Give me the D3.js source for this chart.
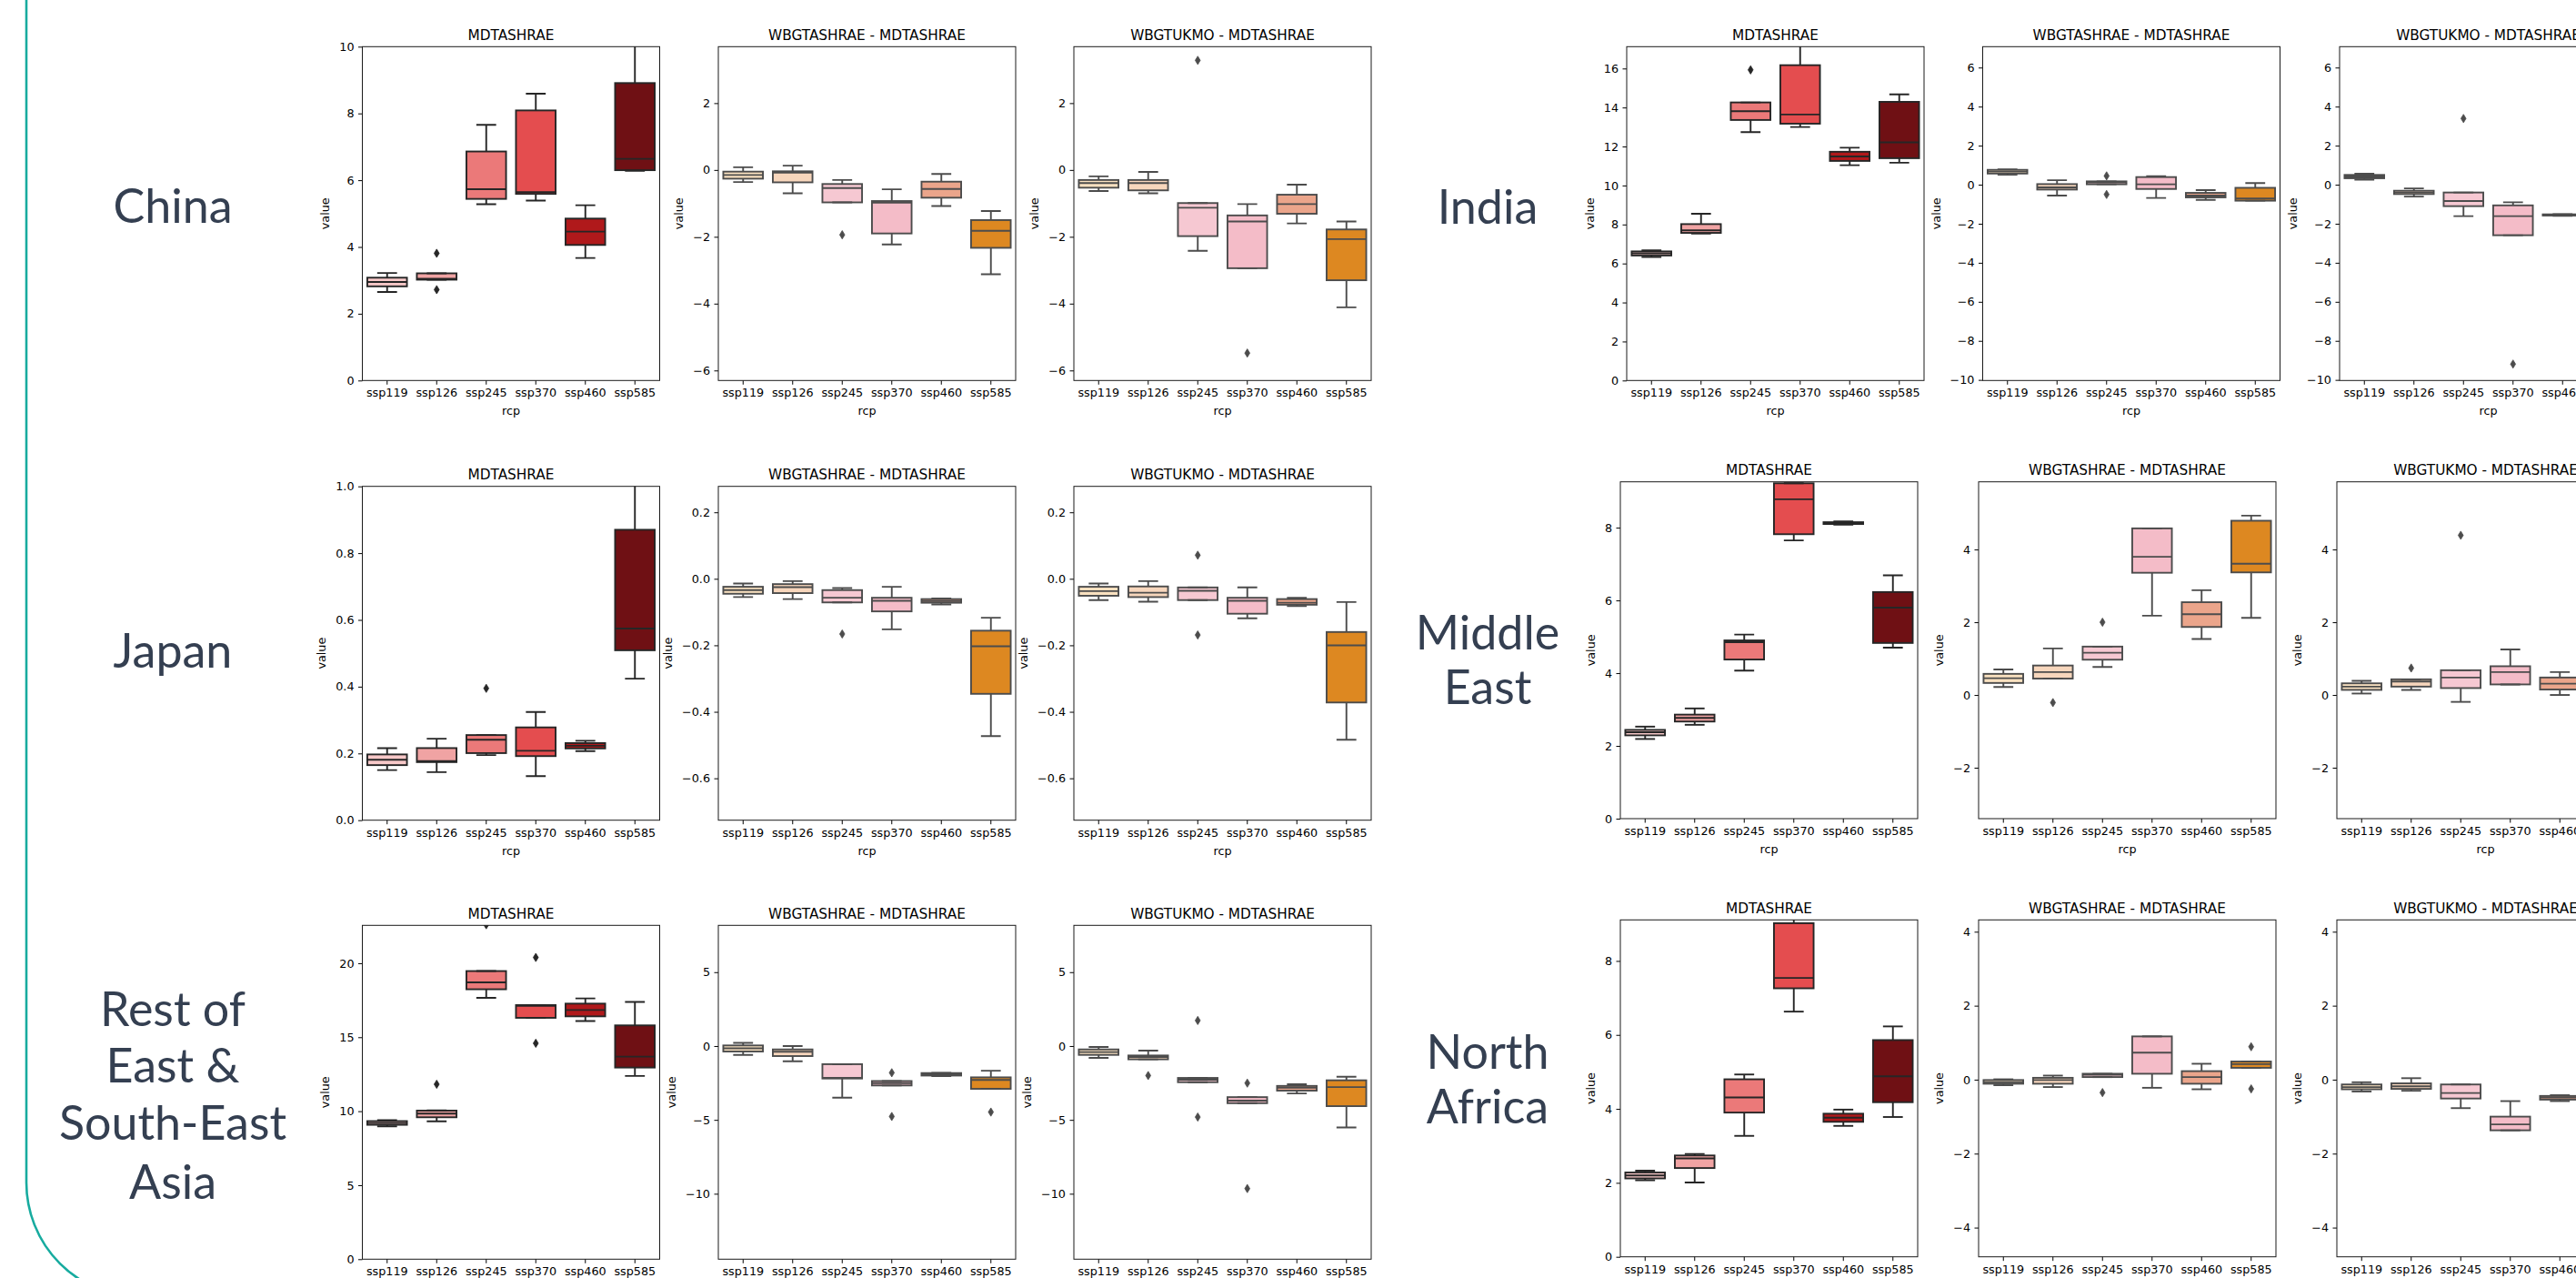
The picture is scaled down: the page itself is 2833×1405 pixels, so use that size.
<!DOCTYPE html>
<html>
<head>
<meta charset="utf-8">
<script src="https://cdn.jsdelivr.net/npm/d3@7"></script>
<style>
html, body { margin: 0; background: #fff; }
svg { display: block; }
</style>
</head>
<body>
<svg id="chart" width="2833" height="1405"></svg>
<script>
// categories + titles
const rcp = ['ssp119', 'ssp126', 'ssp245', 'ssp370', 'ssp460', 'ssp585'];
const panelTitles = ['MDTASHRAE', 'WBGTASHRAE - MDTASHRAE', 'WBGTUKMO - MDTASHRAE'];
const regionNames = [['China'], ['Japan'], ['Rest of', 'East &', 'South-East', 'Asia'], ['India'], ['Middle', 'East'], ['North', 'Africa']];

// each box: [whisker low, q1, median, q3, whisker high, outliers]
const chinaMd = [
    [2.65, 2.82, 2.95, 3.08, 3.22, []],
    [3.02, 3.02, 3.05, 3.21, 3.21, [3.81, 2.72]],
    [5.28, 5.44, 5.73, 6.86, 7.66, []],
    [5.39, 5.59, 5.64, 8.09, 8.59, []],
    [3.67, 4.06, 4.46, 4.85, 5.25, []],
    [6.28, 6.30, 6.64, 8.91, 10.6, []]
];
const chinaWbA = [
    [-0.36, -0.26, -0.15, -0.05, 0.08, []],
    [-0.70, -0.37, -0.08, -0.04, 0.13, []],
    [-0.97, -0.97, -0.54, -0.42, -0.30, [-1.94]],
    [-2.23, -1.90, -0.98, -0.93, -0.58, []],
    [-1.08, -0.83, -0.57, -0.35, -0.12, []],
    [-3.12, -2.33, -1.82, -1.50, -1.23, []]
];
const chinaWbU = [
    [-0.63, -0.53, -0.39, -0.30, -0.19, []],
    [-0.70, -0.61, -0.39, -0.30, -0.06, []],
    [-2.42, -1.98, -1.13, -0.99, -0.99, [3.28]],
    [-2.94, -2.94, -1.54, -1.36, -1.02, [-5.48]],
    [-1.60, -1.31, -1.02, -0.74, -0.44, []],
    [-4.11, -3.30, -2.07, -1.78, -1.54, []]
];

const japanMd = [
    [0.150, 0.165, 0.181, 0.197, 0.216, []],
    [0.144, 0.174, 0.177, 0.216, 0.244, []],
    [0.195, 0.201, 0.241, 0.255, 0.255, [0.395]],
    [0.132, 0.192, 0.208, 0.278, 0.324, []],
    [0.207, 0.215, 0.223, 0.231, 0.238, []],
    [0.424, 0.509, 0.574, 0.870, 1.05, []]
];
const japanWbA = [
    [-0.055, -0.045, -0.034, -0.024, -0.014, []],
    [-0.061, -0.043, -0.025, -0.016, -0.007, []],
    [-0.071, -0.071, -0.057, -0.034, -0.028, [-0.166]],
    [-0.152, -0.098, -0.066, -0.057, -0.024, []],
    [-0.077, -0.072, -0.067, -0.061, -0.059, []],
    [-0.473, -0.346, -0.203, -0.156, -0.117, []]
];
const japanWbU = [
    [-0.064, -0.051, -0.037, -0.024, -0.014, []],
    [-0.069, -0.055, -0.042, -0.023, -0.007, []],
    [-0.064, -0.064, -0.036, -0.026, -0.026, [0.071, -0.169]],
    [-0.119, -0.105, -0.066, -0.057, -0.026, []],
    [-0.082, -0.078, -0.072, -0.061, -0.057, []],
    [-0.484, -0.372, -0.200, -0.160, -0.070, []]
];

const restMd = [
    [8.98, 9.08, 9.20, 9.33, 9.40, []],
    [9.32, 9.59, 9.84, 10.04, 10.06, [11.82]],
    [17.66, 18.24, 18.71, 19.47, 19.47, [22.6]],
    [16.31, 16.31, 17.12, 17.17, 17.17, [20.39, 14.59]],
    [16.09, 16.41, 16.84, 17.27, 17.62, []],
    [12.38, 12.95, 13.69, 15.80, 17.38, []]
];
const restWbA = [
    [-0.60, -0.37, -0.16, 0.04, 0.21, []],
    [-1.03, -0.68, -0.39, -0.23, 0.0, []],
    [-3.50, -2.20, -2.16, -1.23, -1.23, []],
    [-2.67, -2.67, -2.51, -2.37, -2.37, [-1.81, -4.77]],
    [-2.04, -2.00, -1.91, -1.83, -1.81, []],
    [-2.90, -2.90, -2.30, -2.12, -1.67, [-4.47]]
];
const restWbU = [
    [-0.80, -0.60, -0.41, -0.23, -0.06, []],
    [-0.90, -0.90, -0.74, -0.64, -0.31, [-2.0]],
    [-2.45, -2.45, -2.28, -2.16, -2.16, [1.73, -4.81]],
    [-3.87, -3.87, -3.70, -3.46, -3.46, [-2.51, -9.65]],
    [-3.21, -3.02, -2.82, -2.70, -2.59, []],
    [-5.51, -4.07, -2.78, -2.32, -2.08, []]
];

const indiaMd = [
    [6.33, 6.41, 6.52, 6.62, 6.67, []],
    [7.53, 7.57, 7.70, 8.02, 8.55, []],
    [12.74, 13.36, 13.81, 14.26, 14.26, [15.93]],
    [13.00, 13.17, 13.64, 16.17, 17.6, []],
    [11.04, 11.26, 11.49, 11.73, 11.94, []],
    [11.17, 11.40, 12.21, 14.29, 14.67, []]
];
const indiaWbA = [
    [0.51, 0.57, 0.67, 0.76, 0.79, []],
    [-0.56, -0.25, -0.14, 0.03, 0.23, []],
    [0.02, 0.02, 0.12, 0.17, 0.17, [0.45, -0.50]],
    [-0.68, -0.22, 0.02, 0.39, 0.43, []],
    [-0.78, -0.65, -0.56, -0.42, -0.28, []],
    [-0.82, -0.82, -0.71, -0.16, 0.08, []]
];
// ssp585 of the last panel lies outside the picture
const indiaWbU = [
    [0.26, 0.33, 0.42, 0.50, 0.56, []],
    [-0.61, -0.48, -0.40, -0.31, -0.19, []],
    [-1.61, -1.10, -0.84, -0.40, -0.40, [3.39]],
    [-2.59, -2.59, -1.61, -1.06, -0.90, [-9.19]],
    [-1.60, -1.58, -1.55, -1.52, -1.51, []],
    null
];

const meMd = [
    [2.19, 2.29, 2.375, 2.44, 2.53, []],
    [2.58, 2.67, 2.77, 2.86, 3.03, []],
    [4.07, 4.375, 4.85, 4.90, 5.06, []],
    [7.65, 7.82, 8.78, 9.22, 9.22, []],
    [8.08, 8.10, 8.125, 8.15, 8.17, []],
    [4.70, 4.83, 5.80, 6.23, 6.69, []]
];
const meWbA = [
    [0.22, 0.33, 0.46, 0.58, 0.70, []],
    [0.45, 0.45, 0.63, 0.81, 1.28, [-0.21]],
    [0.77, 0.97, 1.16, 1.33, 1.33, [2.0]],
    [2.18, 3.36, 3.80, 4.58, 4.58, []],
    [1.54, 1.87, 2.22, 2.55, 2.88, []],
    [2.12, 3.37, 3.61, 4.79, 4.93, []]
];
const meWbU = [
    [0.04, 0.14, 0.23, 0.32, 0.39, []],
    [0.14, 0.23, 0.37, 0.43, 0.43, [0.74]],
    [-0.19, 0.19, 0.48, 0.68, 0.68, [4.39]],
    [0.29, 0.29, 0.63, 0.79, 1.25, []],
    [0.0, 0.15, 0.31, 0.48, 0.63, []],
    null
];

const naMd = [
    [2.07, 2.12, 2.20, 2.28, 2.33, []],
    [2.01, 2.40, 2.66, 2.74, 2.78, []],
    [3.27, 3.90, 4.31, 4.80, 4.93, []],
    [6.63, 7.26, 7.54, 9.02, 9.3, []],
    [3.54, 3.65, 3.76, 3.87, 3.98, []],
    [3.78, 4.18, 4.88, 5.86, 6.23, []]
];
const naWbA = [
    [-0.15, -0.11, -0.07, -0.01, 0.01, []],
    [-0.20, -0.11, -0.01, 0.05, 0.11, []],
    [0.07, 0.07, 0.13, 0.16, 0.16, [-0.35]],
    [-0.22, 0.16, 0.73, 1.17, 1.17, []],
    [-0.26, -0.11, 0.07, 0.23, 0.43, []],
    [0.32, 0.32, 0.42, 0.49, 0.49, [0.89, -0.25]]
];
const naWbU = [
    [-0.32, -0.26, -0.20, -0.13, -0.07, []],
    [-0.30, -0.25, -0.18, -0.10, 0.04, []],
    [-0.77, -0.51, -0.36, -0.13, -0.13, []],
    [-1.37, -1.37, -1.21, -1.00, -0.58, []],
    [-0.58, -0.54, -0.48, -0.44, -0.42, []],
    null
];

// y limits per panel
const chinaLims = [[0, 10], [-6.30, 3.69], [-6.30, 3.69]];
const japanLims = [[0, 1], [-0.726, 0.278], [-0.726, 0.278]];
const restLims = [[0, 22.56], [-14.43, 8.17], [-14.43, 8.17]];
const indiaLims = [[0, 17.12], [-10.03, 7.07], [-10.03, 7.07]];
const meLims = [[0, 9.26], [-3.40, 5.86], [-3.40, 5.86]];
const naLims = [[0, 9.11], [-4.79, 4.32], [-4.79, 4.32]];

// y tick values per panel
const chinaTicks = [[0, 2, 4, 6, 8, 10], [-6, -4, -2, 0, 2], [-6, -4, -2, 0, 2]];
const japanTicks = [[0, 0.2, 0.4, 0.6, 0.8, 1.0], [-0.6, -0.4, -0.2, 0, 0.2], [-0.6, -0.4, -0.2, 0, 0.2]];
const restTicks = [[0, 5, 10, 15, 20], [-10, -5, 0, 5], [-10, -5, 0, 5]];
const indiaTicks = [[0, 2, 4, 6, 8, 10, 12, 14, 16], [-10, -8, -6, -4, -2, 0, 2, 4, 6], [-10, -8, -6, -4, -2, 0, 2, 4, 6]];
const meTicks = [[0, 2, 4, 6, 8], [-2, 0, 2, 4], [-2, 0, 2, 4]];
const naTicks = [[0, 2, 4, 6, 8], [-4, -2, 0, 2, 4], [-4, -2, 0, 2, 4]];

const mdColors = ['#f7c8c8', '#f0a3a3', '#eb7979', '#e44d4f', '#b0191b', '#6f1014'];
const wbColors = ['#f9e1c0', '#f7d6bc', '#f6c8d2', '#f4bcc8', '#eba58b', '#dd8821'];

const svg = d3.select('#chart');
const W = 327;
const TICK_FONT = 12.75;
const LW = 1.9;

// page frame
svg.append('path')
.attr('d', 'M29,-10 L29,1300 A126,126 0 0 0 155,1426 L2900,1426')
.attr('fill', 'none')
.attr('stroke', '#17ab9f')
.attr('stroke-width', 2.6);

const rows = [
    {data: [chinaMd, chinaWbA, chinaWbU], lims: chinaLims, ticks: chinaTicks, fmt: d3.format('d'), xs: [398.5, 790, 1181], top: 51.3, bottom: 418.3, label: {x: 190, ys: [245]}},
    {data: [japanMd, japanWbA, japanWbU], lims: japanLims, ticks: japanTicks, fmt: d3.format('.1f'), xs: [398.5, 790, 1181], top: 534.7, bottom: 901.7, label: {x: 190, ys: [734]}},
    {data: [restMd, restWbA, restWbU], lims: restLims, ticks: restTicks, fmt: d3.format('d'), xs: [398.5, 790, 1181], top: 1017.3, bottom: 1384.3, label: {x: 190, ys: [1128, 1190, 1253, 1318]}},
    {data: [indiaMd, indiaWbA, indiaWbU], lims: indiaLims, ticks: indiaTicks, fmt: d3.format('d'), xs: [1789, 2180.5, 2573], top: 51.3, bottom: 418.3, label: {x: 1636, ys: [246]}},
    {data: [meMd, meWbA, meWbU], lims: meLims, ticks: meTicks, fmt: d3.format('d'), xs: [1782, 2176, 2570], top: 529.7, bottom: 900, label: {x: 1636, ys: [714, 774]}},
    {data: [naMd, naWbA, naWbU], lims: naLims, ticks: naTicks, fmt: d3.format('d'), xs: [1782, 2176, 2570], top: 1011.3, bottom: 1381.7, label: {x: 1636, ys: [1175, 1235]}}
];

const defs = svg.append('defs');
let clipCount = 0;

function drawPanel(x0, top, bottom, boxes, lims, ticks, fmt, title, colors, lineColor) {
    const g = svg.append('g');
    const x = d3.scaleBand().domain(rcp).range([x0, x0 + W]);
    const y = d3.scaleLinear().domain(lims).range([bottom, top]);

    const clipId = `clip${clipCount++}`;
    defs.append('clipPath').attr('id', clipId)
    .append('rect')
    .attr('x', x0).attr('y', top)
    .attr('width', W).attr('height', bottom - top);

    const plot = g.append('g').attr('clip-path', `url(#${clipId})`);
    const bw = x.bandwidth() * 0.8;

    boxes.forEach((b, i) => {
        if (!b) {
            return;
        }
        const [lo, q1, med, q3, hi, out] = b;
        const cx = x(rcp[i]) + x.bandwidth() / 2;
        const bg = plot.append('g')
        .attr('stroke', lineColor)
        .attr('stroke-width', LW);

        bg.append('rect')
        .attr('x', cx - bw / 2)
        .attr('y', y(q3))
        .attr('width', bw)
        .attr('height', Math.max(0, y(q1) - y(q3)))
        .attr('fill', colors[i]);

        bg.append('line').attr('x1', cx).attr('x2', cx).attr('y1', y(q3)).attr('y2', y(hi));
        bg.append('line').attr('x1', cx).attr('x2', cx).attr('y1', y(q1)).attr('y2', y(lo));
        bg.append('line').attr('x1', cx - bw / 4).attr('x2', cx + bw / 4).attr('y1', y(hi)).attr('y2', y(hi));
        bg.append('line').attr('x1', cx - bw / 4).attr('x2', cx + bw / 4).attr('y1', y(lo)).attr('y2', y(lo));
        bg.append('line').attr('x1', cx - bw / 2).attr('x2', cx + bw / 2).attr('y1', y(med)).attr('y2', y(med));

        plot.selectAll(null)
        .data(out)
        .enter()
        .append('path')
        .attr('transform', (v) => `translate(${cx},${y(v)})`)
        .attr('d', 'M0,-4.6 L2.8,0 L0,4.6 L-2.8,0 Z')
        .attr('fill', lineColor)
        .attr('stroke', lineColor)
        .attr('stroke-width', 0.8);
    });

    // axes
    const yAxis = g.append('g')
    .attr('transform', `translate(${x0},0)`)
    .call(d3.axisLeft(y).tickValues(ticks).tickFormat(fmt).tickSize(4.5).tickPadding(4.5).tickSizeOuter(0));
    const xAxis = g.append('g')
    .attr('transform', `translate(0,${bottom})`)
    .call(d3.axisBottom(x).tickSize(4.5).tickPadding(4.5).tickSizeOuter(0));

    [yAxis, xAxis].forEach((a) => {
        a.select('.domain').remove();
        a.attr('font-family', 'DejaVu Sans').attr('font-size', TICK_FONT);
        a.selectAll('line').attr('stroke', '#000').attr('stroke-width', 1);
        a.selectAll('text').attr('fill', '#000');
    });

    g.append('rect')
    .attr('x', x0).attr('y', top)
    .attr('width', W).attr('height', bottom - top)
    .attr('fill', 'none')
    .attr('stroke', '#1a1a1a')
    .attr('stroke-width', 1);

    g.append('text')
    .attr('x', x0 + W / 2)
    .attr('y', top - 7.65)
    .attr('text-anchor', 'middle')
    .attr('font-family', 'DejaVu Sans')
    .attr('font-size', 15.3)
    .attr('fill', '#000')
    .text(title);

    g.append('text')
    .attr('x', x0 + W / 2)
    .attr('y', bottom + 38)
    .attr('text-anchor', 'middle')
    .attr('font-family', 'DejaVu Sans')
    .attr('font-size', TICK_FONT)
    .attr('fill', '#000')
    .text('rcp');

    const bb = yAxis.node().getBBox();
    const xb = x0 + bb.x - 11;
    const ym = (top + bottom) / 2;
    g.append('text')
    .attr('transform', `translate(${xb},${ym}) rotate(-90)`)
    .attr('text-anchor', 'middle')
    .attr('font-family', 'DejaVu Sans')
    .attr('font-size', TICK_FONT)
    .attr('fill', '#000')
    .text('value');
}

rows.forEach((row, r) => {
    row.data.forEach((boxes, p) => {
        drawPanel(row.xs[p], row.top, row.bottom, boxes, row.lims[p], row.ticks[p], row.fmt,
            panelTitles[p], p === 0 ? mdColors : wbColors, p === 0 ? '#262626' : '#4c4c4c');
    });

    const lbl = svg.append('text')
    .attr('text-anchor', 'middle')
    .attr('font-family', 'Lato, "Open Sans", sans-serif')
    .attr('font-size', 52)
    .attr('fill', '#343f51');
    regionNames[r].forEach((line, k) => {
        lbl.append('tspan')
        .attr('x', row.label.x)
        .attr('y', row.label.ys[k])
        .text(line);
    });
});
</script>
</body>
</html>
